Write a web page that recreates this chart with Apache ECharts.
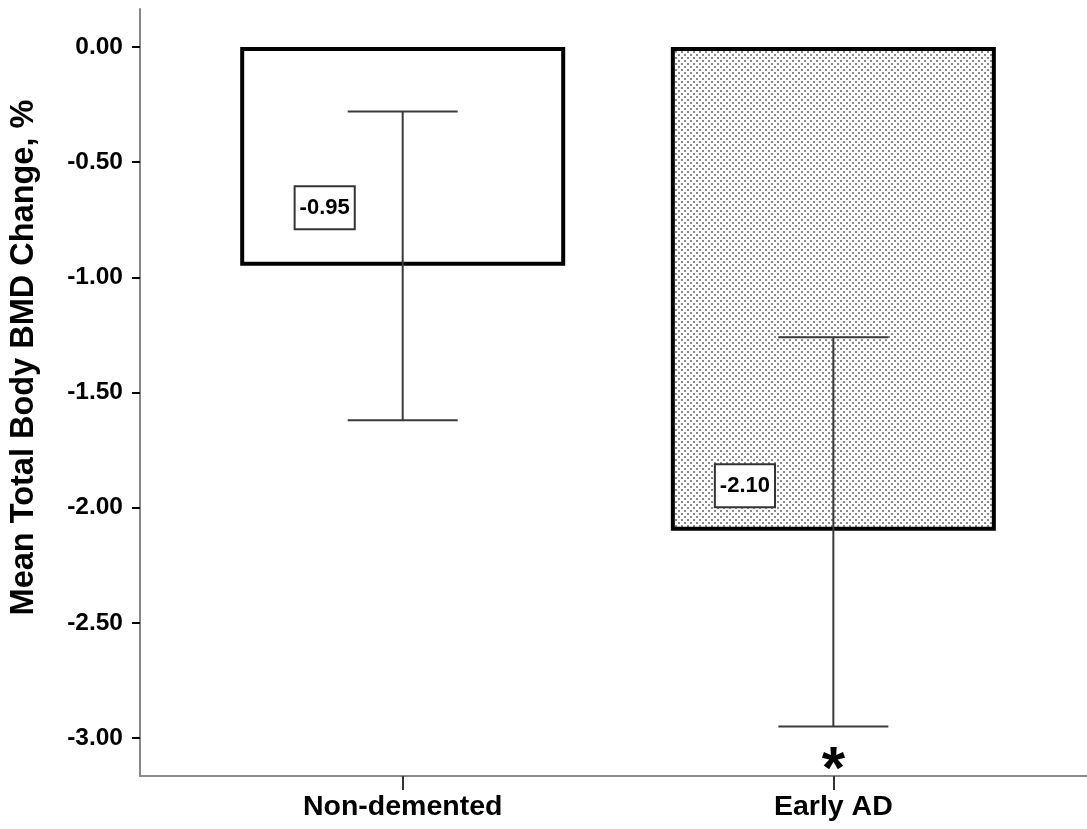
<!DOCTYPE html>
<html>
<head>
<meta charset="utf-8">
<script src="https://cdn.jsdelivr.net/npm/echarts@6/dist/echarts.min.js"></script>
<style>html,body{margin:0;padding:0;background:#fff}#c{width:1087px;height:829px}</style>
</head>
<body>
<div id="c"></div>
<script>
const categories = ['Non-demented', 'Early AD'];
const categoryPos = [1, 2];
const means = [-0.95, -2.10];
const ciUpper = [-0.28, -1.26];
const ciLower = [-1.62, -2.95];
const yTicks = [0, -0.5, -1.0, -1.5, -2.0, -2.5, -3.0];
const significance = ['', '*'];

const FONT = '"Liberation Sans", Arial, sans-serif';

function makePattern() {
  const c = document.createElement('canvas');
  c.width = 6; c.height = 6;
  const ctx = c.getContext('2d');
  ctx.fillStyle = '#ffffff';
  ctx.fillRect(0, 0, 6, 6);
  ctx.fillStyle = '#8a8a8a';
  ctx.fillRect(0, 0, 2, 2);
  ctx.fillRect(3, 3, 2, 2);
  return c;
}
const pattern = { image: makePattern(), repeat: 'repeat' };

const labelPos = [['26%', '73.5%'], ['22.8%', '90.7%']];
const fills = ['#ffffff', pattern];

const chart = echarts.init(document.getElementById('c'));
chart.setOption({
  animation: false,
  backgroundColor: '#ffffff',
  grid: { left: 139, right: 0, top: 9, bottom: 53 },
  xAxis: {
    type: 'value', min: 0.39, max: 2.589,
    splitLine: { show: false },
    axisLine: { show: true, onZero: false, lineStyle: { color: '#888', width: 2 } },
    axisTick: { show: true, customValues: categoryPos, length: 14, lineStyle: { color: '#333', width: 2 } },
    axisLabel: {
      customValues: categoryPos,
      formatter: v => categories[Math.round(v) - 1] || '',
      fontFamily: FONT, fontSize: 28.5, fontWeight: 'bold', color: '#000', margin: 17
    }
  },
  yAxis: {
    type: 'value', min: -3.165, max: 0.165,
    name: 'Mean Total Body BMD Change, %',
    nameLocation: 'middle', nameGap: 99, nameRotate: 90,
    nameTextStyle: { fontFamily: FONT, fontSize: 32.5, fontWeight: 'bold', color: '#000', padding: [0, 0, 0, 70] },
    splitLine: { show: false },
    axisLine: { show: true, onZero: false, lineStyle: { color: '#888', width: 2 } },
    axisTick: { show: true, customValues: yTicks, length: 8, lineStyle: { color: '#000', width: 2 } },
    axisLabel: {
      customValues: yTicks,
      formatter: v => v.toFixed(2),
      fontFamily: FONT, fontSize: 24.5, fontWeight: 'bold', color: '#000', margin: 17
    }
  },
  series: [
    {
      type: 'bar',
      barWidth: 325,
      data: means.map((m, i) => ({
        value: [categoryPos[i], m],
        itemStyle: { color: fills[i], borderColor: '#000', borderWidth: 4 },
        label: {
          show: true,
          position: labelPos[i],
          align: 'center', verticalAlign: 'middle',
          formatter: p => p.value[1].toFixed(2),
          fontFamily: FONT, fontSize: 22, fontWeight: 'bold', color: '#000',
          backgroundColor: '#fff', borderColor: '#333', borderWidth: 2,
          padding: [10, 4, 9, 4]
        }
      }))
    },
    {
      type: 'custom',
      data: categoryPos.map((x, i) => [x, ciUpper[i], ciLower[i], i]),
      renderItem: (params, api) => {
        const x = api.value(0);
        const top = api.coord([x, api.value(1)]);
        const bot = api.coord([x, api.value(2)]);
        const hw = 55;
        const st = { stroke: '#3a3a3a', lineWidth: 2 };
        const children = [
          { type: 'line', shape: { x1: top[0], y1: top[1], x2: bot[0], y2: bot[1] }, style: st },
          { type: 'line', shape: { x1: top[0] - hw, y1: top[1], x2: top[0] + hw, y2: top[1] }, style: st },
          { type: 'line', shape: { x1: bot[0] - hw, y1: bot[1], x2: bot[0] + hw, y2: bot[1] }, style: st }
        ];
        const s = significance[api.value(3)];
        if (s) {
          children.push({
            type: 'text',
            style: { text: s, x: bot[0], y: bot[1] + 15, align: 'center', verticalAlign: 'top',
              font: 'bold 60px ' + FONT, fill: '#000' }
          });
        }
        return { type: 'group', children };
      },
      z: 5
    }
  ]
});
</script>
</body>
</html>
